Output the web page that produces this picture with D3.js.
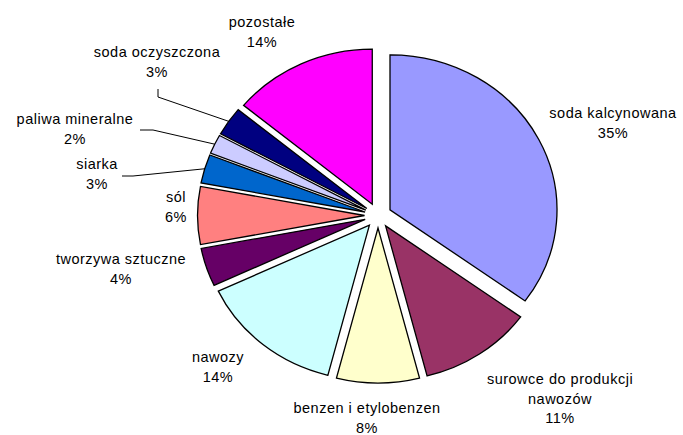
<!DOCTYPE html>
<meta charset="utf-8">
<style>
body { margin: 0; background: #fff; }
svg { display: block; }
.slice { stroke: #000; stroke-width: 1.3px; }
.lbl { font-family: "Liberation Sans", Arial, sans-serif; font-size: 14.5px; fill: #000; letter-spacing: 0.5px; }
.leader { fill: none; stroke: #000; stroke-width: 1px; }
</style>
<div id="chart"></div>
<script src="https://cdn.jsdelivr.net/npm/d3@7/dist/d3.min.js"></script>
<script>

// data, clockwise from 12 o'clock
var categories = ["soda kalcynowana", "surowce do produkcji nawozów", "benzen i etylobenzen", "nawozy",
  "tworzywa sztuczne", "sól", "siarka", "paliwa mineralne", "soda oczyszczona", "pozostałe"]
var values = [35, 11, 8, 14, 4, 6, 3, 2, 3, 14]
var colors = ["#9999FF", "#993366", "#FFFFCC", "#CCFFFF", "#660066", "#FF8080", "#0066CC", "#CCCCFF", "#000080", "#FF00FF"]

// label layout: centre of first line, text lines
var labelPos = [
  {x: 613, y: 113, lines: ["soda kalcynowana"]},
  {x: 560, y: 379, lines: ["surowce do produkcji", "nawozów"]},
  {x: 367, y: 408, lines: ["benzen i etylobenzen"]},
  {x: 218, y: 357, lines: ["nawozy"]},
  {x: 121, y: 259, lines: ["tworzywa sztuczne"]},
  {x: 176, y: 197, lines: ["sól"]},
  {x: 97, y: 164, lines: ["siarka"]},
  {x: 75, y: 119, lines: ["paliwa mineralne"]},
  {x: 157, y: 52, lines: ["soda oczyszczona"]},
  {x: 262, y: 22, lines: ["pozostałe"]}
]
// leader line start points (label side), only for small slices
var leaders = {
  6: [[122, 176], [133, 176]],
  7: [[140, 130], [153, 130]],
  8: [[158, 89], [158, 97]]
}

var width = 683, height = 435
var cx = 378, cy = 215.5, r = 155, sx = 167 / 155, explode = 12.5

var svg = d3.select("#chart").append("svg")
  .attr("width", width).attr("height", height)

var pie = d3.pie().sort(null).value(function(d){ return d })
var arcs = pie(values)
var arc = d3.arc().innerRadius(0).outerRadius(r)

var g = svg.append("g").attr("transform", "translate(" + cx + "," + cy + ") scale(" + sx + ",1)")

function mid(d) { return (d.startAngle + d.endAngle) / 2 }

g.selectAll("path")
  .data(arcs)
  .enter().append("path")
    .attr("class", "slice")
    .attr("vector-effect", "non-scaling-stroke")
    .attr("fill", function(d, i){ return colors[i] })
    .attr("transform", function(d){
      var a = mid(d)
      return "translate(" + (explode * Math.sin(a)) + "," + (-explode * Math.cos(a)) + ")"
    })
    .attr("d", arc)

// leader lines
Object.keys(leaders).forEach(function(k){
  var d = arcs[+k], a = mid(d), rr = r + explode
  var end = [cx + Math.sin(a) * rr * sx, cy - Math.cos(a) * rr]
  var pts = leaders[k].concat([end])
  svg.append("path").attr("class", "leader").attr("d", d3.line()(pts))
})

// labels
labelPos.forEach(function(p, i){
  var lines = p.lines.concat([values[i] + "%"])
  var t = svg.append("text").attr("class", "lbl").attr("text-anchor", "middle")
  lines.forEach(function(s, j){
    t.append("tspan").attr("x", p.x).attr("y", p.y + j * 19.5).attr("dy", "0.35em").text(s)
  })
})

</script>
